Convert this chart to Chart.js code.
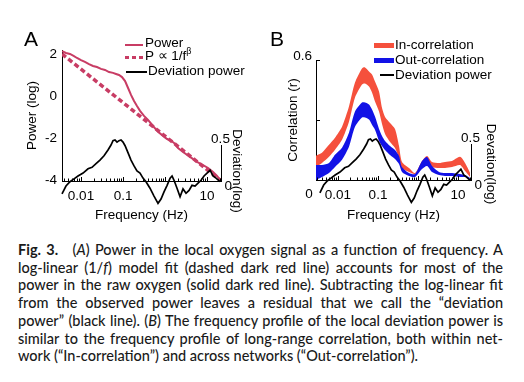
<!DOCTYPE html>
<html><head><meta charset="utf-8">
<script src="https://cdn.jsdelivr.net/npm/chart.js@4.4.1/dist/chart.umd.min.js"></script>
<style>
html,body{margin:0;padding:0;background:#fff;}
#fig{position:relative;width:524px;height:382px;overflow:hidden;font-family:"Liberation Sans",Arial,sans-serif;color:#000;}
canvas{position:absolute;top:0;}
#cA{left:0;} #cB{left:262px;}
.lbl{position:absolute;font-size:21px;line-height:20px;}
.leg{position:absolute;font-size:13.5px;line-height:14px;white-space:nowrap;}
.leg sup{font-size:9px;line-height:0;vertical-align:6px;}
.sw{position:absolute;}
.vt{position:absolute;writing-mode:vertical-rl;font-size:13.5px;line-height:14px;white-space:nowrap;transform:translate(-50%,-50%);}
#cap{position:absolute;left:18px;top:241px;width:485px;font-family:Lato,"Open Sans",sans-serif;font-size:14.5px;font-weight:500;line-height:17.7px;color:#1a1a1a;}
#cap div{text-align:justify;text-align-last:justify;white-space:nowrap;}
#cap div.last{text-align-last:left;}
#cap b{font-weight:700;}
</style></head>
<body>
<div id="fig">
  <canvas id="cA" width="262" height="225" style="width:262px;height:225px"></canvas>
  <canvas id="cB" width="262" height="225" style="width:262px;height:225px"></canvas>

  <div class="lbl" style="left:24px;top:29px">A</div>
  <div class="lbl" style="left:270px;top:29px">B</div>

  <!-- legend A -->
  <div class="sw" style="left:125px;top:44px;width:18px;height:2px;background:#c83c64"></div>
  <div class="leg" style="left:145px;top:36px">Power</div>
  <div class="sw" style="left:125px;top:56px;width:18px;height:3px;background:repeating-linear-gradient(90deg,#c83c64 0 4px,transparent 4px 7px)"></div>
  <div class="leg" style="left:145px;top:49px">P ∝ 1/f<sup>β</sup></div>
  <div class="sw" style="left:126px;top:71px;width:21px;height:2px;background:#000"></div>
  <div class="leg" style="left:148px;top:64px">Deviation power</div>
  <div class="vt" style="left:237px;top:171px">Deviation(log)</div>

  <!-- legend B -->
  <div class="sw" style="left:374px;top:43px;width:20px;height:5px;background:#f5503c"></div>
  <div class="leg" style="left:395px;top:38px">In-correlation</div>
  <div class="sw" style="left:374px;top:58px;width:20px;height:5px;background:#1212e6"></div>
  <div class="leg" style="left:395px;top:53px">Out-correlation</div>
  <div class="sw" style="left:380px;top:74px;width:14px;height:2px;background:#000"></div>
  <div class="leg" style="left:395px;top:68px">Deviation power</div>
  <div class="vt" style="left:491px;top:164px">Devation(log)</div>

  <div id="cap">
    <div><b>Fig. 3.</b><span style="display:inline-block;width:9px"></span> (<i>A</i>) Power in the local oxygen signal as a function of frequency. A</div>
    <div>log-linear (1/<i>f</i>) model fit (dashed dark red line) accounts for most of the</div>
    <div>power in the raw oxygen (solid dark red line). Subtracting the log-linear fit</div>
    <div>from the observed power leaves a residual that we call the “deviation</div>
    <div>power” (black line). (<i>B</i>) The frequency profile of the local deviation power is</div>
    <div>similar to the frequency profile of long-range correlation, both within net-</div>
    <div class="last">work (“In-correlation”) and across networks (“Out-correlation”).</div>
  </div>
</div>
<script>
// ===== data =====
const xTickValues = [0.01, 0.1, 10];
const xTickLabels = ['0.01', '0.1', '10'];
const powerTickValues = [-4, -2, 0, 2];
const powerTickLabels = ['-4', '-2', '0', '2'];
const corrTickValues = [0, 0.3, 0.6];
const corrTickLabels = ['', '', '0.6'];
const devTickValues = [0, 0.5];
const devTickLabels = ['0', '0.5'];

// Panel A: raw power (log) vs frequency (Hz)
const powerFreq = [0.00353,0.00439,0.00547,0.00681,0.00803,0.01,0.0124,0.0155,0.0193,0.024,0.0299,0.0373,0.0464,0.0578,0.0681,0.0803,0.0946,0.112,0.132,0.155,0.183,0.215,0.254,0.316,0.394,0.518,0.681,0.896,1.12,1.32,1.64,2.04,2.68,3.94,5.78,8.03,10.6,13.9,17.3,20.4];
const powerVals = [2.14,2.05,2.0,1.9,1.81,1.71,1.62,1.52,1.43,1.38,1.29,1.24,1.14,1.1,1.05,1.0,0.9,0.71,0.38,0.05,-0.24,-0.48,-0.71,-0.95,-1.14,-1.43,-1.71,-1.9,-2.05,-2.1,-2.24,-2.48,-2.67,-2.9,-3.14,-3.29,-3.43,-3.62,-3.81,-4.0];
// 1/f^beta fit
const fitFreq = [0.00353, 20.4];
const fitVals = [2.0, -4.0];
// deviation power (shared by both panels)
const devFreq = [0.00353,0.00439,0.00547,0.00681,0.00849,0.0112,0.0147,0.0183,0.0228,0.0283,0.0353,0.0439,0.0518,0.0578,0.0645,0.072,0.0803,0.0896,0.1,0.112,0.132,0.155,0.183,0.215,0.254,0.299,0.353,0.439,0.547,0.681,0.803,0.946,1.12,1.32,1.47,1.64,1.93,2.28,2.68,3.16,3.73,4.39,5.18,6.11,7.2,8.48,10,11.8,13.9,16.4,20.4];
const devVals = [-0.18,-0.07,-0.01,0.03,0.07,0.11,0.17,0.19,0.24,0.29,0.35,0.43,0.5,0.56,0.57,0.54,0.56,0.57,0.54,0.49,0.39,0.29,0.21,0.14,0.11,0.04,-0.01,-0.1,-0.21,-0.31,-0.25,-0.15,-0.06,0.04,0.07,0.01,-0.1,-0.22,-0.11,-0.17,-0.13,-0.06,-0.07,-0.03,0.01,0.07,0.11,0.15,0.07,0.04,-0.01];
// Panel B: correlation bands
const bandFreq = [0.00282,0.00398,0.00596,0.00841,0.0126,0.0188,0.0266,0.0398,0.0473,0.0596,0.0708,0.0841,0.106,0.126,0.15,0.2,0.266,0.335,0.398,0.596,0.841,1.26,1.68,2.24,3.35,4.73,7.08,11.2,15.0,20.0];
const inUpper  = [0.121,0.136,0.176,0.211,0.266,0.367,0.487,0.558,0.563,0.543,0.528,0.492,0.442,0.36,0.315,0.285,0.255,0.17,0.09,0.06,0.035,0.095,0.12,0.09,0.085,0.09,0.095,0.116,0.085,0.035];
const inLower  = [0.065,0.085,0.116,0.151,0.201,0.291,0.412,0.477,0.482,0.467,0.437,0.392,0.342,0.28,0.23,0.19,0.16,0.11,0.06,0.04,0.03,0.075,0.09,0.065,0.06,0.06,0.065,0.075,0.045,0.015];
const outUpper = [0.075,0.075,0.085,0.126,0.161,0.236,0.342,0.387,0.387,0.377,0.352,0.317,0.255,0.22,0.195,0.17,0.15,0.12,0.065,0.035,0.03,0.095,0.115,0.07,0.04,0.035,0.035,0.03,0.025,0.01];
const outLower = [0.0,0.015,0.035,0.065,0.101,0.166,0.266,0.312,0.312,0.302,0.276,0.251,0.195,0.17,0.15,0.125,0.105,0.08,0.04,0.02,0.015,0.055,0.07,0.04,0.025,0.02,0.02,0.015,0.015,0.005];

// ===== helpers =====
const pts = (xs, ys) => xs.map((x, i) => ({x, y: ys[i]}));
const RED = '#c83c64', BAND_RED = '#f5503c', BAND_BLUE = '#1212e6';
Chart.defaults.font.family = '"Liberation Sans", Arial, sans-serif';
Chart.defaults.font.size = 13.5;
Chart.defaults.color = '#000';

const extras = {
  id: 'extras',
  afterDraw(chart, args, o) {
    const {ctx, chartArea: ca, scales} = chart;
    const x = scales.x, y = scales.y, y2 = scales.y2;
    ctx.save();
    ctx.strokeStyle = '#000'; ctx.lineWidth = 1;
    ctx.beginPath();
    for (let e = -3; e <= 1; e++) for (let m = 1; m <= 9; m++) {
      const v = m * Math.pow(10, e);
      if (v < x.min || v > x.max) continue;
      const px = Math.round(x.getPixelForValue(v)) + 0.5;
      const len = m === 1 ? 4 : 2.5;
      ctx.moveTo(px, ca.bottom); ctx.lineTo(px, ca.bottom - len);
    }
    if (o.leftTicks) {
      o.leftTicks.forEach(v => {
        const py = Math.round(y.getPixelForValue(v)) + 0.5;
        ctx.moveTo(ca.left, py); ctx.lineTo(ca.left + 4, py);
      });
    }
    const rx = Math.round(ca.right) + 0.5;
    const y0 = y2.getPixelForValue(devTickValues[0]);
    const y5 = y2.getPixelForValue(devTickValues[1]);
    ctx.moveTo(rx, y0); ctx.lineTo(rx, y5);
    ctx.stroke();
    ctx.fillStyle = '#000';
    ctx.font = '13.5px "Liberation Sans", Arial, sans-serif';
    ctx.textAlign = 'center'; ctx.textBaseline = 'bottom';
    ctx.fillText(devTickLabels[1], rx - 1, y5 + 1);
    ctx.textAlign = 'left'; ctx.textBaseline = 'middle';
    ctx.fillText(devTickLabels[0], rx + 3, y0 + 5);
    if (o.zeroLabel) {
      ctx.textAlign = 'center';
      ctx.fillText(corrTickLabels[0] || '0', ca.left - 7, y.getPixelForValue(0) + 14);
    }
    ctx.restore();
  }
};

function xAxis(min, max, h) {
  return {
    type: 'logarithmic', min, max,
    afterBuildTicks: s => { s.ticks = xTickValues.map(v => ({value: v, major: true})); },
    afterFit: s => { s.height = h; },
    ticks: {autoSkip: false, maxRotation: 0, padding: 7, callback: (v, i) => xTickLabels[i]},
    grid: {display: false, drawTicks: false},
    border: {display: true, color: '#000', width: 1},
    title: {display: true, text: 'Frequency (Hz)', padding: {top: 0, bottom: 2}}
  };
}

const common = {
  responsive: false, animation: false, devicePixelRatio: 1, events: [],
  plugins: {legend: {display: false}, tooltip: {enabled: false}}
};

// ===== Panel A =====
new Chart(document.getElementById('cA'), {
  type: 'line',
  data: {datasets: [
    {data: pts(devFreq, devVals), yAxisID: 'y2', borderColor: '#000', borderWidth: 1.7, pointRadius: 0, clip: false, order: 0},
    {data: pts(fitFreq, fitVals), yAxisID: 'y', borderColor: RED, borderWidth: 3.5, borderDash: [5, 3], pointRadius: 0, order: 1},
    {data: pts(powerFreq, powerVals), yAxisID: 'y', borderColor: RED, borderWidth: 2, pointRadius: 0, order: 2}
  ]},
  options: Object.assign({}, common, {
    layout: {padding: {top: 50, right: 41, left: 0, bottom: 0}},
    plugins: Object.assign({}, common.plugins, {extras: {}}),
    scales: {
      x: xAxis(0.00353, 21.5, 44),
      y: {
        type: 'linear', position: 'left', min: -4.05, max: 2.19,
        afterBuildTicks: s => { s.ticks = powerTickValues.map(v => ({value: v})); },
        afterFit: s => { s.width = 62; },
        ticks: {padding: 5, callback: (v, i) => powerTickLabels[i]},
        grid: {display: false, drawTicks: false},
        border: {display: true, color: '#000', width: 1},
        title: {display: true, text: 'Power (log)', padding: {top: 24, bottom: 0}}
      },
      y2: {type: 'linear', position: 'right', display: false, min: 0, max: 1.819}
    }
  }),
  plugins: [extras]
});

// ===== Panel B =====
new Chart(document.getElementById('cB'), {
  type: 'line',
  data: {datasets: [
    {data: pts(bandFreq, inUpper), yAxisID: 'y', borderWidth: 0, backgroundColor: BAND_RED, fill: '+1', pointRadius: 0, tension: 0.25, order: 3},
    {data: pts(bandFreq, inLower), yAxisID: 'y', borderWidth: 0, pointRadius: 0, tension: 0.25, fill: false, order: 3},
    {data: pts(bandFreq, outUpper), yAxisID: 'y', borderWidth: 0, backgroundColor: BAND_BLUE, fill: '+1', pointRadius: 0, tension: 0.25, order: 2},
    {data: pts(bandFreq, outLower), yAxisID: 'y', borderWidth: 0, pointRadius: 0, tension: 0.25, fill: false, order: 2},
    {data: pts(devFreq, devVals), yAxisID: 'y2', borderColor: '#000', borderWidth: 1.7, pointRadius: 0, clip: false, order: 0}
  ]},
  options: Object.assign({}, common, {
    layout: {padding: {top: 60, right: 53, left: 0, bottom: 0}},
    plugins: Object.assign({}, common.plugins, {extras: {leftTicks: [0.3, 0.6], zeroLabel: true}}),
    scales: {
      x: xAxis(0.00282, 21.1, 45),
      y: {
        type: 'linear', position: 'left', min: 0, max: 0.6,
        afterBuildTicks: s => { s.ticks = corrTickValues.map(v => ({value: v})); },
        afterFit: s => { s.width = 54; },
        ticks: {padding: 4, labelOffset: -4, callback: (v, i) => corrTickLabels[i]},
        grid: {display: false, drawTicks: false},
        border: {display: true, color: '#000', width: 1},
        title: {display: true, text: 'Correlation (r)', padding: {top: 23, bottom: 0}}
      },
      y2: {type: 'linear', position: 'right', display: false, min: 0, max: 1.667}
    }
  }),
  plugins: [extras]
});

// ===== fit caption lines =====
document.querySelectorAll('#cap div').forEach(d => {
  const s = document.createElement('span');
  s.style.whiteSpace = 'nowrap';
  s.style.font = getComputedStyle(d).font;
  s.innerHTML = d.innerHTML;
  document.body.appendChild(s);
  const w = s.getBoundingClientRect().width;
  document.body.removeChild(s);
  if (w > 484) {
    const n = d.textContent.length;
    d.style.letterSpacing = ((484 - w) / n).toFixed(3) + 'px';
  }
});
</script>
</body></html>
